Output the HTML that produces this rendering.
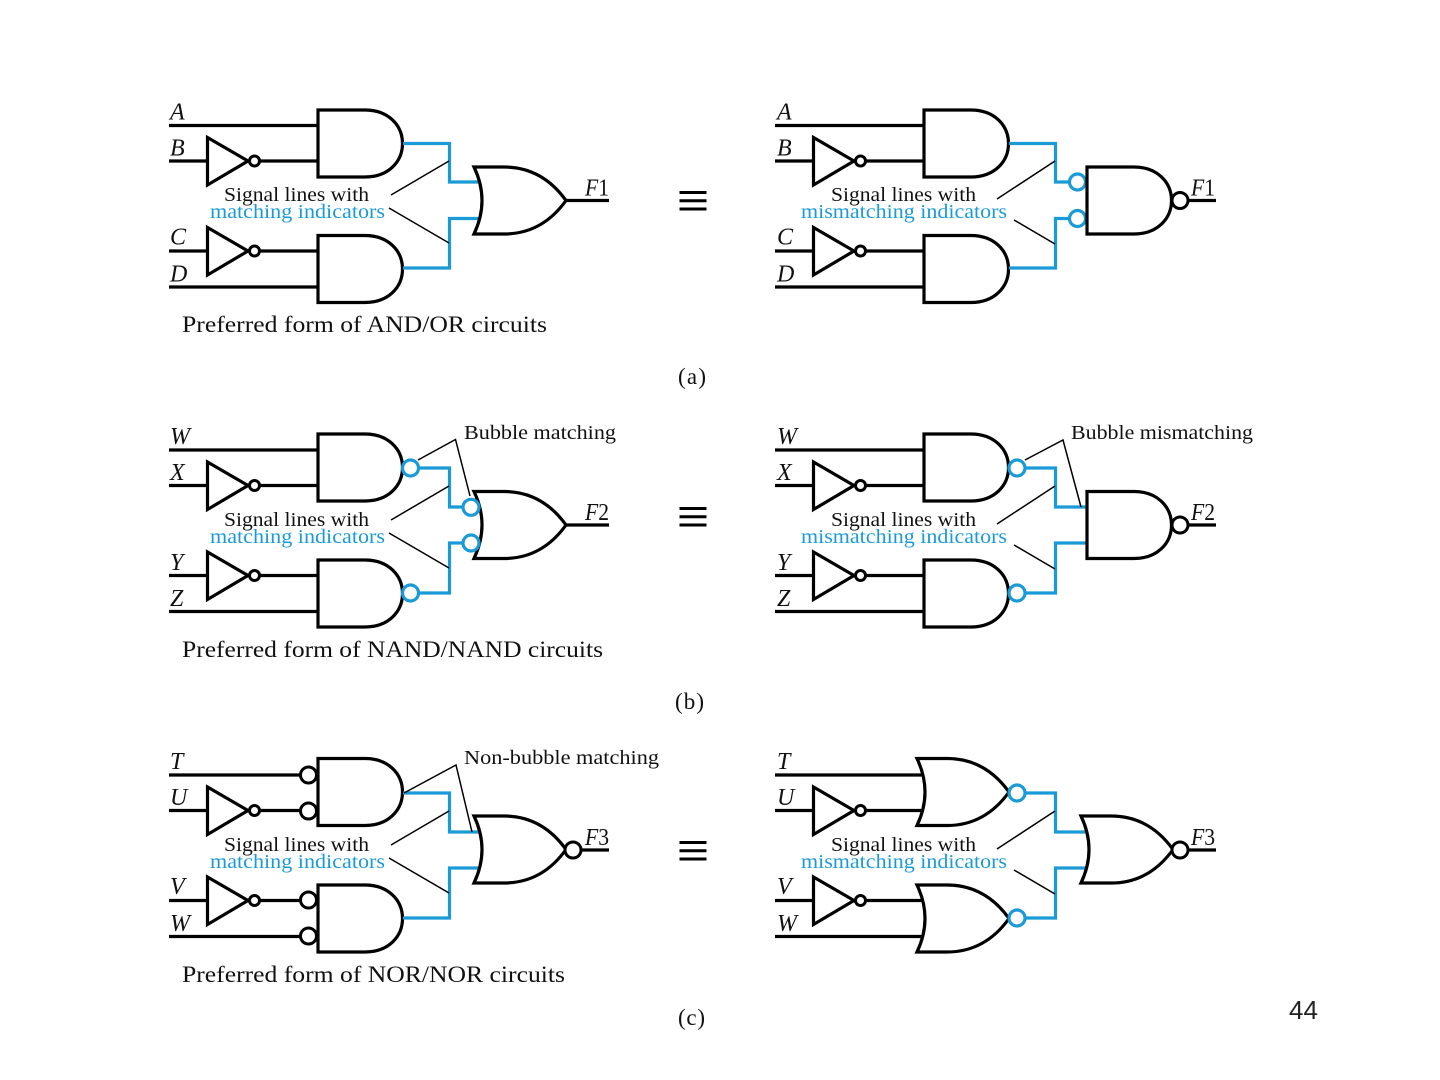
<!DOCTYPE html>
<html>
<head>
<meta charset="utf-8">
<style>
html,body{margin:0;padding:0;background:#fff;width:1440px;height:1080px;overflow:hidden}
svg{display:block}
text{font-family:"Liberation Serif",serif;fill:#111}
.l{font-style:italic;font-size:24px}
.s{font-size:20.5px}
.b{font-size:20.5px;fill:#1b9ad8}
.p{font-size:23px}
.c{font-size:23px}
.k{fill:none;stroke:#000;stroke-width:3.2}
.t{fill:none;stroke:#000;stroke-width:1.5}
.w{fill:none;stroke:#1b9ad8;stroke-width:3.2}
.bb{fill:#fff;stroke:#1b9ad8;stroke-width:3.2}
.kb{fill:#fff;stroke:#000;stroke-width:3}
</style>
</head>
<body>
<svg width="1440" height="1080" viewBox="0 0 1440 1080" xmlns="http://www.w3.org/2000/svg">
<defs>
<path id="and" class="k" d="M0,0H47C70,0 84.500,15 84.500,33.500S70,67 47,67H0Z"/>
<path id="or" class="k" d="M0,0H30C58,0 78,14 92,33.500C78,53 58,67 30,67H0Q16,33.500 0,0Z"/>
<g id="inputs">
<path class="k" d="M169,125.500H318M169,161H207M254,161H318M169,251H207M254,251H318M169,287H318"/>
<path class="k" d="M207.500,137.500L248,161L207.500,185ZM207.500,227.500L248,251L207.500,275Z"/>
<circle class="kb" cx="254.500" cy="161" r="5"/>
<circle class="kb" cx="254.500" cy="251" r="5"/>
</g>
<g id="eq"><path d="M679.500,192.500H706.500M679.500,200.700H706.500M679.500,209H706.500" fill="none" stroke="#000" stroke-width="3"/></g>
<g id="leftSig">
<path class="t" d="M391,195L449,161M389,208L449,243"/>
<text class="s" x="224" y="201" textLength="145" lengthAdjust="spacingAndGlyphs">Signal lines with</text>
<text class="b" x="210" y="218" textLength="175" lengthAdjust="spacingAndGlyphs">matching indicators</text>
</g>
<g id="rightSig">
<path class="t" d="M997,199L1055,161M1014,220L1055,244"/>
<text class="s" x="831" y="201" textLength="145" lengthAdjust="spacingAndGlyphs">Signal lines with</text>
<text class="b" x="801" y="218" textLength="206" lengthAdjust="spacingAndGlyphs">mismatching indicators</text>
</g>
</defs>

<!-- Panel (a) left -->
<use href="#inputs"/>
<use href="#and" x="318" y="110"/>
<use href="#and" x="318" y="235.500"/>
<path class="w" d="M403,143.500H449.500V182H480M403,268H449.500V218.500H480"/>
<use href="#or" x="474" y="167"/>
<path class="k" d="M566,200.500H609"/>
<use href="#leftSig"/>
<text class="l" x="170" y="119.500">A</text><text class="l" x="170" y="155.500">B</text><text class="l" x="170" y="244.500">C</text><text class="l" x="170" y="281.500">D</text>
<text class="l" x="585" y="195.500" textLength="24" lengthAdjust="spacingAndGlyphs">F<tspan font-style="normal">1</tspan></text>
<text class="p" x="182" y="332" textLength="365" lengthAdjust="spacingAndGlyphs">Preferred form of AND/OR circuits</text>
<use href="#eq"/>
<text class="c" x="678" y="384" textLength="28">(a)</text>

<!-- Panel (a) right -->
<use href="#inputs" x="606"/>
<use href="#and" x="924" y="110"/>
<use href="#and" x="924" y="235.500"/>
<path class="w" d="M1009,143.500H1055.500V182H1069M1009,268H1055.500V218.500H1069"/>
<circle class="bb" cx="1077.500" cy="182" r="8"/>
<circle class="bb" cx="1077.500" cy="218.500" r="8"/>
<use href="#and" x="1087" y="167"/>
<path class="k" d="M1188,200.500H1216"/>
<circle class="kb" cx="1180" cy="200.500" r="8"/>
<use href="#rightSig"/>
<text class="l" x="777" y="119.500">A</text><text class="l" x="777" y="155.500">B</text><text class="l" x="777" y="244.500">C</text><text class="l" x="777" y="281.500">D</text>
<text class="l" x="1191" y="195.500" textLength="24" lengthAdjust="spacingAndGlyphs">F<tspan font-style="normal">1</tspan></text>

<!-- Panel (b) left -->
<use href="#inputs" y="324.500"/>
<use href="#and" x="318" y="434"/>
<use href="#and" x="318" y="560"/>
<path class="w" d="M419,468H449.500V507H462M419,593H449.500V543H462"/>
<use href="#or" x="474" y="491.500"/>
<circle class="bb" cx="410.500" cy="468" r="8"/>
<circle class="bb" cx="410.500" cy="593" r="8"/>
<circle class="bb" cx="471" cy="507.300" r="8"/>
<circle class="bb" cx="471" cy="543" r="8"/>
<path class="k" d="M566,525H609"/>
<use href="#leftSig" y="325"/>
<path class="t" d="M418,460L455.500,439.500L470,496"/>
<text class="s" x="464" y="439" textLength="152" lengthAdjust="spacingAndGlyphs">Bubble matching</text>
<text class="l" x="170" y="444">W</text><text class="l" x="170" y="480">X</text><text class="l" x="170" y="570">Y</text><text class="l" x="170" y="606">Z</text>
<text class="l" x="585" y="520" textLength="24" lengthAdjust="spacingAndGlyphs">F<tspan font-style="normal">2</tspan></text>
<text class="p" x="182" y="657" textLength="421" lengthAdjust="spacingAndGlyphs">Preferred form of NAND/NAND circuits</text>
<use href="#eq" y="316"/>
<text class="c" x="675" y="709" textLength="29">(b)</text>

<!-- Panel (b) right -->
<use href="#inputs" x="606" y="324.500"/>
<use href="#and" x="924" y="434"/>
<use href="#and" x="924" y="560"/>
<path class="w" d="M1026,468H1055.500V507H1087M1026,593H1055.500V543H1087"/>
<circle class="bb" cx="1017" cy="468" r="8"/>
<circle class="bb" cx="1017" cy="593" r="8"/>
<use href="#and" x="1087" y="491.500"/>
<path class="k" d="M1188,525H1216"/>
<circle class="kb" cx="1180" cy="525" r="8"/>
<use href="#rightSig" y="325"/>
<path class="t" d="M1025,460L1063,440L1081,507"/>
<text class="s" x="1071" y="439" textLength="182" lengthAdjust="spacingAndGlyphs">Bubble mismatching</text>
<text class="l" x="777" y="444">W</text><text class="l" x="777" y="480">X</text><text class="l" x="777" y="570">Y</text><text class="l" x="777" y="606">Z</text>
<text class="l" x="1191" y="520" textLength="24" lengthAdjust="spacingAndGlyphs">F<tspan font-style="normal">2</tspan></text>

<!-- Panel (c) left -->
<use href="#inputs" y="649.500"/>
<use href="#and" x="318" y="758.500"/>
<use href="#and" x="318" y="885"/>
<circle class="kb" cx="308.500" cy="775" r="8"/>
<circle class="kb" cx="308.500" cy="811" r="8"/>
<circle class="kb" cx="308.500" cy="900" r="8"/>
<circle class="kb" cx="308.500" cy="936" r="8"/>
<path class="w" d="M403,793H449.500V832H480M403,918H449.500V868H480"/>
<use href="#or" x="474" y="816"/>
<path class="k" d="M581,850H609"/>
<circle class="kb" cx="573" cy="850" r="8"/>
<use href="#leftSig" y="650"/>
<path class="t" d="M404,793L456,765L472,832"/>
<text class="s" x="464" y="764" textLength="195" lengthAdjust="spacingAndGlyphs">Non-bubble matching</text>
<text class="l" x="170" y="769">T</text><text class="l" x="170" y="805">U</text><text class="l" x="170" y="894">V</text><text class="l" x="170" y="931">W</text>
<text class="l" x="585" y="845" textLength="24" lengthAdjust="spacingAndGlyphs">F<tspan font-style="normal">3</tspan></text>
<text class="p" x="182" y="982" textLength="383" lengthAdjust="spacingAndGlyphs">Preferred form of NOR/NOR circuits</text>
<use href="#eq" y="650"/>
<text class="c" x="678" y="1025" textLength="27">(c)</text>

<!-- Panel (c) right -->
<use href="#inputs" x="606" y="649.500"/>
<use href="#or" x="917" y="758.500"/>
<use href="#or" x="917" y="885"/>
<path class="w" d="M1026,793H1055.500V832H1087M1026,918H1055.500V868H1087"/>
<circle class="bb" cx="1017" cy="793" r="8"/>
<circle class="bb" cx="1017" cy="918" r="8"/>
<use href="#or" x="1081" y="816"/>
<path class="k" d="M1188,850H1216"/>
<circle class="kb" cx="1180" cy="850" r="8"/>
<use href="#rightSig" y="650"/>
<text class="l" x="777" y="769">T</text><text class="l" x="777" y="805">U</text><text class="l" x="777" y="894">V</text><text class="l" x="777" y="931">W</text>
<text class="l" x="1191" y="845" textLength="24" lengthAdjust="spacingAndGlyphs">F<tspan font-style="normal">3</tspan></text>

<text x="1289" y="1019" style="font-family:'Liberation Sans',sans-serif;font-size:26px;fill:#222">44</text>
</svg>
</body>
</html>
